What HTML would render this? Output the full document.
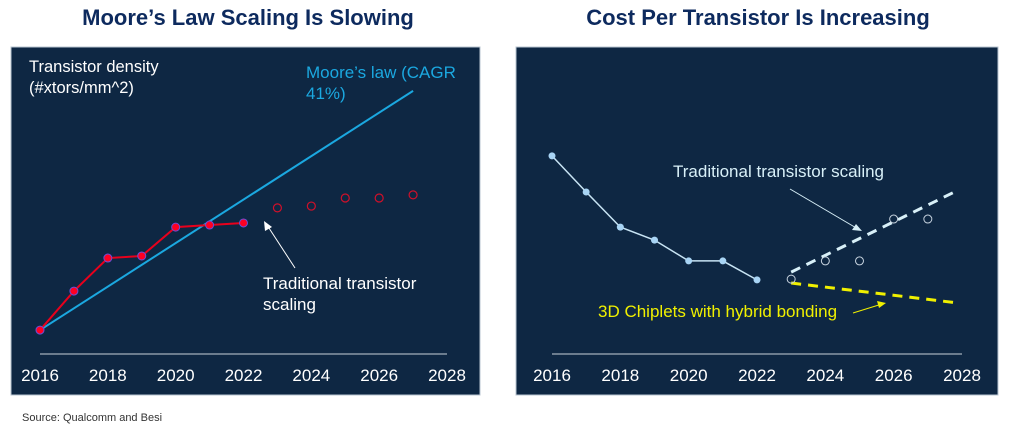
<!DOCTYPE html>
<html><head><meta charset="utf-8"><style>
body{margin:0;background:#fff;width:1018px;height:432px;overflow:hidden;font-family:"Liberation Sans",sans-serif}
svg{position:absolute;left:0;top:0}
</style></head><body>
<svg width="1018" height="432" id="fig">
<text x="248" y="25" text-anchor="middle" font-size="22" font-weight="bold" fill="#0d2a5e">Moore’s Law Scaling Is Slowing</text>
<text x="758" y="25" text-anchor="middle" font-size="22" font-weight="bold" fill="#0d2a5e">Cost Per Transistor Is Increasing</text>
<rect x="11" y="47" width="469" height="348" fill="#0e2743" stroke="#b8c4d0" stroke-width="1"/>
<rect x="516" y="47" width="482" height="348" fill="#0e2743" stroke="#b8c4d0" stroke-width="1"/>
<line x1="40" y1="354" x2="447" y2="354" stroke="#c8d0d8" stroke-width="1"/>
<line x1="552" y1="354" x2="962" y2="354" stroke="#c8d0d8" stroke-width="1"/>
<text x="29" y="72" font-size="16.5" fill="#fff">Transistor density</text>
<text x="29" y="93" font-size="16.5" fill="#fff">(#xtors/mm^2)</text>
<text x="306" y="78" font-size="17" fill="#1ba8e0">Moore’s law (CAGR</text>
<text x="306" y="99" font-size="17" fill="#1ba8e0">41%)</text>
<text x="263" y="289" font-size="17" fill="#fff">Traditional transistor</text>
<text x="263" y="310" font-size="17" fill="#fff">scaling</text>
<line x1="295" y1="268" x2="267" y2="225" stroke="#fff" stroke-width="1"/>
<polygon points="264,221 265,231 272,227" fill="#fff"/>
<text x="673" y="177" font-size="17" fill="#d8f0f8">Traditional transistor scaling</text>
<line x1="790" y1="189" x2="858" y2="229" stroke="#d8f0f8" stroke-width="1"/>
<polygon points="862,231 852,230 856,224" fill="#d8f0f8"/>
<text x="598" y="317" font-size="17" fill="#f0f000">3D Chiplets with hybrid bonding</text>
<line x1="853" y1="313" x2="882" y2="304" stroke="#f0f000" stroke-width="1"/>
<polygon points="886,303 877,301 879,308" fill="#f0f000"/>
<text x="22" y="421" font-size="11" fill="#333">Source: Qualcomm and Besi</text>
</svg>
<script>
const ticks=["2016","2018","2020","2022","2024","2026","2028"];
const leftYears=[2016,2017,2018,2019,2020,2021,2022];
const leftDensity=[9.2,24.2,36.9,37.7,48.8,49.6,50.4];
const leftProjYears=[2023,2024,2025,2026,2027];
const leftProjDensity=[56.2,56.9,60,60,61.2];
const mooreYears=[2016,2027];
const mooreDensity=[9.2,101.2];
const rightYears=[2016,2017,2018,2019,2020,2021,2022];
const rightCost=[76.2,62.3,48.8,43.8,35.8,35.8,28.5];
const rightProjYears=[2023,2024,2025,2026,2027];
const rightProjCost=[28.8,35.8,35.8,51.9,51.9];
const tradTrendYears=[2023,2027.9];
const tradTrendCost=[31.5,63.1];
const chipletYears=[2023,2027.9];
const chipletCost=[27.3,19.6];

const svg=document.getElementById('fig');
const NS='http://www.w3.org/2000/svg';
const lx=y=>40+(y-2016)*(407/12);
const rx=y=>552+(y-2016)*(410/12);
const vy=v=>354-v*2.6;
function mk(tag,attrs){const e=document.createElementNS(NS,tag);for(const k in attrs)e.setAttribute(k,attrs[k]);svg.appendChild(e);return e;}
function pts(xs,ys,fx){return xs.map((x,i)=>fx(x)+','+vy(ys[i])).join(' ');}

ticks.forEach(t=>{
  let e=mk('text',{x:lx(+t),y:381,'text-anchor':'middle','font-size':17,fill:'#fff'});e.textContent=t;
  
  
  e=mk('text',{x:rx(+t),y:381,'text-anchor':'middle','font-size':17,fill:'#fff'});e.textContent=t;
  
  
});

let m=mk('polyline',{points:pts(mooreYears,mooreDensity,lx),fill:'none',stroke:'#1ba8e0','stroke-width':2});


let l=mk('polyline',{points:pts(leftYears,leftDensity,lx),fill:'none',stroke:'#e8001c','stroke-width':2});


leftYears.forEach((y,i)=>{
  const c=mk('circle',{cx:lx(y),cy:vy(leftDensity[i]),r:4,fill:'#ff0022',stroke:'#6a4fd8','stroke-width':1});
  
  
});
leftProjYears.forEach((y,i)=>{
  const c=mk('circle',{cx:lx(y),cy:vy(leftProjDensity[i]),r:4,fill:'none',stroke:'#d0102a','stroke-width':1.2});
  
  
});

let r=mk('polyline',{points:pts(rightYears,rightCost,rx),fill:'none',stroke:'#c8e4f4','stroke-width':1.5});


rightYears.forEach((y,i)=>{
  const c=mk('circle',{cx:rx(y),cy:vy(rightCost[i]),r:3.5,fill:'#a8d4f4'});
  
  
});
let t=mk('polyline',{points:pts(tradTrendYears,tradTrendCost,rx),fill:'none',stroke:'#d8f0f8','stroke-width':3,'stroke-dasharray':'10,7'});


let yl=mk('polyline',{points:pts(chipletYears,chipletCost,rx),fill:'none',stroke:'#f0f000','stroke-width':3,'stroke-dasharray':'10,7'});


rightProjYears.forEach((y,i)=>{
  const c=mk('circle',{cx:rx(y),cy:vy(rightProjCost[i]),r:4,fill:'none',stroke:'#c8d4e0','stroke-width':1});
  
  
});
</script>
</body></html>
